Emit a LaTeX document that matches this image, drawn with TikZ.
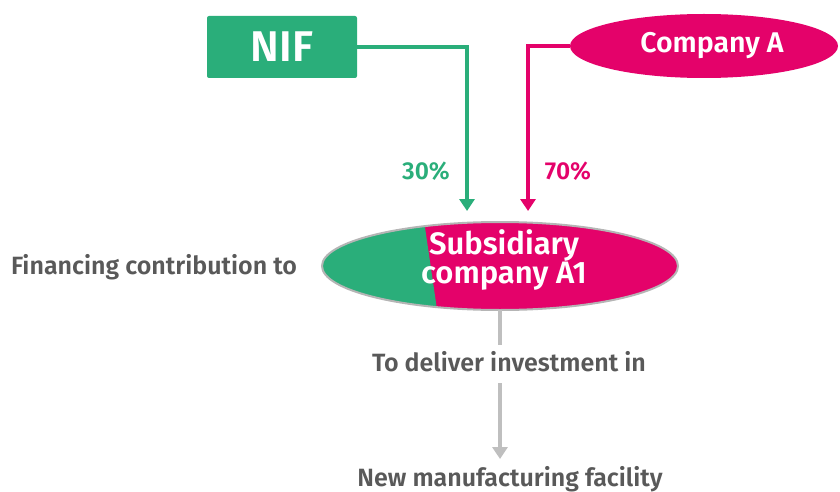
\documentclass[tikz,border=0pt]{standalone}
\usepackage{fontspec}
\setmainfont{Fira Sans}
\newfontfamily\semib{Fira Sans SemiBold}
\usetikzlibrary{arrows.meta,shapes.geometric}
\definecolor{nifgreen}{HTML}{2AAE7A}
\definecolor{compmag}{HTML}{E4026A}
\definecolor{txtgray}{HTML}{595959}
\definecolor{linegray}{HTML}{BFBFBF}
\definecolor{rimgray}{HTML}{B5B5B5}
\tikzset{
  flow/.style={line width=3.2pt, -{Triangle[width=15pt,length=12pt]}},
  graytxt/.style={text=txtgray, font=\semib\fontsize{25}{29}\selectfont, inner sep=0pt},
  pct/.style={font=\semib\fontsize{24.5}{28}\selectfont, inner sep=0pt},
}
\begin{document}
\begin{tikzpicture}[x=1pt,y=-1pt]
\useasboundingbox (0,0) rectangle (840,492);
% NIF box
\node[fill=nifgreen, rounded corners=2pt, minimum width=150pt, minimum height=62pt, inner sep=0pt,
      text=white, font=\semib\fontsize{43}{46}\selectfont] (nif) at (282,47) {NIF};
% Company A ellipse
\node[ellipse, fill=compmag, minimum width=268pt, minimum height=64pt, inner sep=0pt] (compa) at (704,46) {};
\node[text=white, inner sep=0pt, font=\semib\fontsize{28.5}{32}\selectfont] (compatxt) at (712,46) {Company A};
% Subsidiary ellipse
\node[ellipse, minimum width=356pt, minimum height=88pt, inner sep=0pt] (sub) at (500,266) {};
\fill[compmag] (500,266) ellipse [x radius=178pt, y radius=44pt];
\begin{scope}
  \clip (500,266) ellipse [x radius=178pt, y radius=44pt];
  \fill[nifgreen] (300,200) -- (421,200) -- (440,330) -- (300,330) -- cycle;
\end{scope}
\draw[rimgray, line width=2pt] (500,266) ellipse [x radius=178pt, y radius=44pt];
\node[text=white, align=center, font=\semib\fontsize{31}{27}\selectfont, inner sep=0pt] (subtxt) at (504,260) {Subsidiary\\company A1};
% arrow targets
\coordinate (gtip) at (467,211);
\coordinate (mtip) at (528,211);
\draw[flow, nifgreen] (nif.east) -| (gtip);
\draw[flow, compmag] (compa.west) -| (mtip);
\node[pct, text=nifgreen] (p30) at (426,171) {30\%};
\node[pct, text=compmag] (p70) at (568,171) {70\%};
% left label
\node[graytxt] (fin) at (154,267) {Financing contribution to};
% bottom flow
\node[graytxt] (deliver) at (509,362) {To deliver investment in};
\node[graytxt] (facility) at (510,479) {New manufacturing facility};
\coordinate (dtop) at (500,345);
\coordinate (dbot) at (500,383);
\coordinate (ftip) at (500,459);
\draw[linegray, line width=3.2pt] (sub.south) -- (dtop);
\draw[flow, linegray] (dbot) -- (ftip);
\end{tikzpicture}
\end{document}
